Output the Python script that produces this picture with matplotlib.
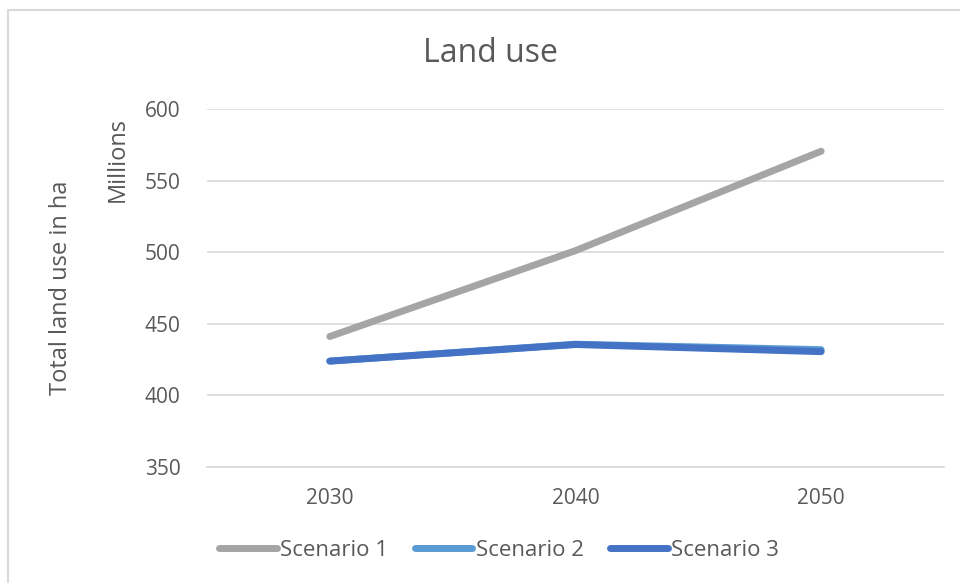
import numpy as np
import matplotlib.pyplot as plt
from matplotlib.patches import Rectangle

years = ["2030", "2040", "2050"]
scenario_1 = [441.0, 501.0, 570.5]
scenario_2 = [423.8, 435.6, 431.8]
scenario_3 = [423.8, 435.4, 430.4]

labels = ["Scenario 1", "Scenario 2", "Scenario 3"]
colors = ["#A5A5A5", "#5B9BD5", "#4472C4"]

plt.rcParams['font.family'] = ['Open Sans', 'DejaVu Sans']
txt = "#595959"

fig = plt.figure(figsize=(9.6, 5.83), dpi=100)
ax = fig.add_axes([207/960, 1 - 466.7/583, 737/960, (466.7 - 109)/583])

x = np.arange(len(years))
for vals, lab, c in zip([scenario_1, scenario_2, scenario_3], labels, colors):
    ax.plot(x, vals, color=c, lw=5, solid_capstyle='round', label=lab)

ax.set_xlim(-0.5, 2.5)
ax.set_ylim(350, 600)
ax.set_yticks([350, 400, 450, 500, 550, 600])
ax.set_xticks(x)
ax.set_xticklabels(years)
ax.grid(axis='y', color="#D9D9D9", lw=1.2)
ax.set_axisbelow(True)
for s in ['top', 'right', 'left']:
    ax.spines[s].set_visible(False)
ax.spines['bottom'].set_color("#D9D9D9")
ax.spines['bottom'].set_linewidth(1.2)
ax.tick_params(length=0, colors=txt, labelsize=15)
ax.tick_params(axis='x', pad=15)
ax.tick_params(axis='y', pad=19)

fig.text(490/960, 1 - 53/583, "Land use", ha='center', va='center', fontsize=23, color=txt)
fig.text(61/960, 1 - 288/583, "Total land use in ha", rotation=90, ha='center', va='center', fontsize=17, color=txt)
fig.text(118/960, 1 - 160/583, "Millions", rotation=90, ha='center', va='center', fontsize=17, color=txt)

leg = fig.legend(loc='center', bbox_to_anchor=(499/960, 1 - 550/583), ncol=3, frameon=False,
                 fontsize=16, handlelength=2.6, handletextpad=0.15, columnspacing=1.2)
for t in leg.get_texts():
    t.set_color(txt)

# outer chart border, open on the right and bottom
fig.patches.append(Rectangle((8/960, -0.1), 1.2, 1.1 - 10/583, transform=fig.transFigure,
                             fill=False, edgecolor="#D9D9D9", lw=1.5))

fig.savefig("out.png", dpi=100)
